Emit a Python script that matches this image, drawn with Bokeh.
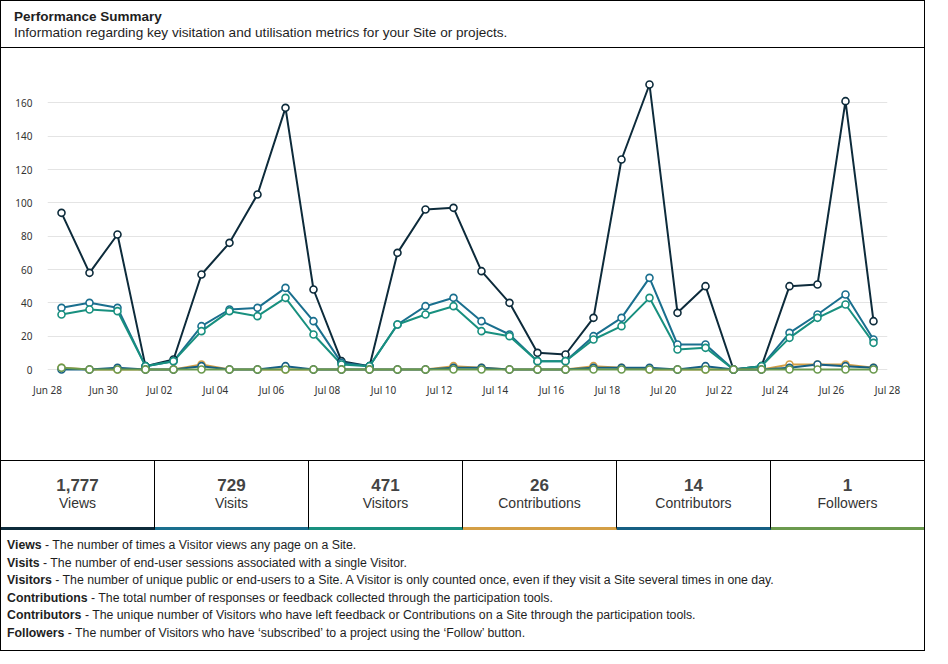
from datetime import datetime, timedelta
import pandas as pd
from bokeh.plotting import figure
from bokeh.models import Div, FixedTicker, DatetimeTickFormatter, Range1d, ColumnDataSource
from bokeh.layouts import column, row
from bokeh.embed import file_html
from bokeh.resources import INLINE

# ---------------- data ----------------
start_day = "2024-06-28"
n_days = 30
views = [94, 58, 81, 2, 6, 57, 76, 105, 157, 48, 5, 2, 70, 96, 97, 59, 40, 10, 9, 31,
         126, 171, 34, 50, 0, 2, 50, 51, 161, 29]
visits = [37, 40, 37, 2, 5, 26, 36, 37, 49, 29, 4, 2, 27, 38, 43, 29, 21, 5, 5, 20,
          31, 55, 15, 15, 0, 2, 22, 33, 45, 18]
visitors = [33, 36, 35, 2, 5, 23, 35, 32, 43, 21, 3, 2, 27, 33, 38, 23, 20, 5, 5, 18,
            26, 43, 12, 13, 0, 2, 19, 31, 39, 16]
contributions = [1, 0, 0, 0, 0, 3, 0, 0, 0, 0, 0, 0, 0, 0, 2, 1, 0, 0, 0, 2,
                 1, 0, 0, 0, 0, 0, 3, 3, 3, 1]
contributors = [0, 0, 1, 0, 0, 2, 0, 0, 2, 0, 0, 0, 0, 0, 1, 1, 0, 0, 0, 1,
                1, 1, 0, 2, 0, 0, 1, 3, 2, 1]
followers = [1, 0, 0, 0, 0, 0, 0, 0, 0, 0, 0, 0, 0, 0, 0, 0, 0, 0, 0, 0,
             0, 0, 0, 0, 0, 0, 0, 0, 0, 0]

metric_names = ["Views", "Visits", "Visitors", "Contributions", "Contributors", "Followers"]
metric_totals = ["1,777", "729", "471", "26", "14", "1"]
metric_colors = ["#0d2b3b", "#1a6f8e", "#18907f", "#d49f45", "#155f83", "#6b9a4e"]
metric_desc = [
    "The number of times a Visitor views any page on a Site.",
    "The number of end-user sessions associated with a single Visitor.",
    "The number of unique public or end-users to a Site. A Visitor is only counted once, even if they visit a Site several times in one day.",
    "The total number of responses or feedback collected through the participation tools.",
    "The unique number of Visitors who have left feedback or Contributions on a Site through the participation tools.",
    "The number of Visitors who have \u2018subscribed\u2019 to a project using the \u2018Follow\u2019 button.",
]
title_text = "Performance Summary"
subtitle_text = "Information regarding key visitation and utilisation metrics for your Site or projects."

# ---------------- chart ----------------
days = pd.date_range(start_day, periods=n_days, freq="D")
xs = days + pd.Timedelta(hours=12)
x_start = days[0].to_pydatetime()
x_end = (days[-1] + pd.Timedelta(days=1)).to_pydatetime()

W = 925
p = figure(width=W - 2, height=412, x_axis_type="datetime", output_backend="svg",
           toolbar_location=None,
           x_range=Range1d(x_start, x_end), y_range=Range1d(-3, 180),
           min_border_left=46, min_border_right=37, min_border_top=21, min_border_bottom=86,
           margin=0)
p.outline_line_color = None
p.background_fill_color = "white"
p.border_fill_color = "white"
p.xgrid.visible = False
p.ygrid.grid_line_color = "#e4e4e4"
p.ygrid.grid_line_width = 1

p.yaxis.ticker = FixedTicker(ticks=list(range(0, 181, 20)))
p.yaxis.major_label_overrides = {180: ""}
tick_ms = [int((days[0] + pd.Timedelta(days=2 * k)).timestamp() * 1000) for k in range(16)]
p.xaxis.ticker = FixedTicker(ticks=tick_ms)
p.xaxis.formatter = DatetimeTickFormatter(days="%b %d", months="%b %d")
for ax in (p.xaxis[0], p.yaxis[0]):
    ax.axis_line_color = None
    ax.major_tick_line_color = None
    ax.minor_tick_line_color = None
    ax.major_label_text_font = "Noto Sans"
    ax.major_label_text_font_size = "10px"
    ax.major_label_text_color = "#333333"
p.xaxis.major_label_standoff = 2
p.yaxis.major_label_standoff = 9

series = [views, visits, visitors, contributions, contributors, followers]
for vals, col in zip(series, metric_colors):
    src = ColumnDataSource(dict(x=xs, y=vals))
    p.line("x", "y", source=src, line_color=col, line_width=2)
for vals, col in zip(series, metric_colors):
    src = ColumnDataSource(dict(x=xs, y=vals))
    p.scatter("x", "y", source=src, size=7, fill_color="white", line_color=col, line_width=1.6)

FONT = "'Liberation Sans', Arial, sans-serif"

TH = 48
title_div = Div(width=W, height=TH, margin=0, text=(
    f'<div style="box-sizing:border-box;width:{W}px;height:{TH}px;border:1px solid #000;'
    f'padding:8px 0 0 13px;font-family:{FONT};color:#1e1e1e;">'
    f'<div style="font-weight:bold;font-size:13.5px;line-height:15px;">{title_text}</div>'
    f'<div style="font-size:13.6px;line-height:17px;">{subtitle_text}</div></div>'))

bar_l = Div(width=1, height=412, margin=0, styles={"background-color": "#000"})
bar_r = Div(width=1, height=412, margin=0, styles={"background-color": "#000"})
chart_row = row(bar_l, p, bar_r, spacing=0, margin=0)

boxes = ""
for i, (nm, tot, col) in enumerate(zip(metric_names, metric_totals, metric_colors)):
    br = "border-right:1px solid #000;" if i < 5 else ""
    boxes += (f'<div style="box-sizing:border-box;flex:1 1 0;height:69px;{br}'
              f'border-bottom:3px solid {col};text-align:center;padding-top:16px;">'
              f'<div style="font-weight:bold;font-size:17px;line-height:18px;color:#444;">{tot}</div>'
              f'<div style="font-size:14px;line-height:17px;color:#333;">{nm}</div></div>')
stats_div = Div(width=W, height=70, margin=0, text=(
    f'<div style="box-sizing:border-box;width:{W}px;height:70px;border:1px solid #000;'
    f'border-bottom:none;display:flex;font-family:{FONT};">{boxes}</div>'))

lines = "".join(
    f'<div style="white-space:nowrap;"><b>{nm}</b> - {d}</div>'
    for nm, d in zip(metric_names, metric_desc))
desc_div = Div(width=W, height=121, margin=0, text=(
    f'<div style="box-sizing:border-box;width:{W}px;height:121px;border:1px solid #000;'
    f'border-top:none;padding:7px 0 0 6px;font-family:{FONT};font-size:12.3px;'
    f'line-height:17.5px;color:#1e1e1e;">{lines}</div>'))

layout = column(title_div, chart_row, stats_div, desc_div, spacing=0, margin=0)
open("out.html", "w").write(file_html(layout, INLINE))
